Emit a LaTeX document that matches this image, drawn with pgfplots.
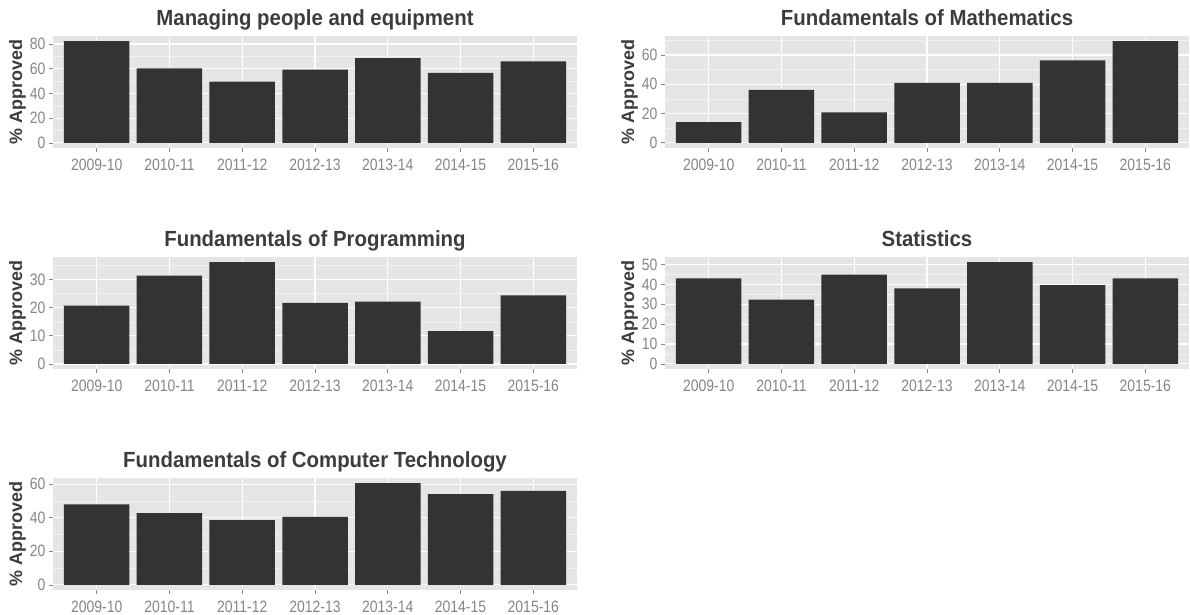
\documentclass[border=0pt]{standalone}
\usepackage{fontspec}
\setmainfont{Liberation Sans}
\newfontfamily\titlefont[FakeStretch=0.93]{Liberation Sans}
\newfontfamily\ylabfont[FakeStretch=1.0]{Liberation Sans}
\newfontfamily\tickfont[FakeStretch=0.85]{Liberation Sans}
\usepackage{pgfplots}
\pgfplotsset{compat=1.18}
\definecolor{ggbg}{HTML}{E5E5E5}
\definecolor{ggminor}{HTML}{F2F2F2}
\definecolor{ggbar}{HTML}{333333}
\definecolor{ggtick}{HTML}{858585}
\definecolor{ggtitle}{HTML}{3C3C3C}
\pgfplotsset{
  ggpanel/.style={
    scale only axis, width=524bp, height=112bp,
    anchor=south west,
    xmin=-0.6, xmax=6.6,
    xtick={0,1,2,3,4,5,6},
    xticklabels={2009-10,2010-11,2011-12,2012-13,2013-14,2014-15,2015-16},
    axis line style={draw=none},
    axis background/.style={fill=ggbg},
    xmajorgrids=true, ymajorgrids=true, yminorgrids=true,
    major grid style={draw=white, line width=1.1bp},
    minor grid style={draw=ggminor, line width=0.6bp},
    tick align=outside,
    major tick length=4bp, minor tick length=0bp,
    tick pos=left,
    tick style={draw=ggtick, line width=0.8bp},
    /pgf/number format/assume math mode=true,
    ticklabel style={font=\tickfont\fontsize{16.5}{16.5}\selectfont, text=ggtick},
    xticklabel style={yshift=-3bp},
    title style={font=\titlefont\bfseries\fontsize{22}{22}\selectfont, text=ggtitle, at={(0.5,1)}, anchor=base, yshift=5bp},
    ylabel={\% Approved},
    ylabel style={font=\ylabfont\bfseries\fontsize{18}{18}\selectfont, text=ggtitle, at={(axis description cs:-0.068,0.5)}, anchor=center},
  },
  ggbar/.style={ybar, bar width=0.9, fill=ggbar, draw=none},
}
\begin{document}
\begin{tikzpicture}
\useasboundingbox (0bp,0bp) rectangle (1190bp,-615bp);
% Panel 1
\begin{axis}[ggpanel, at={(53bp,-148bp)},
  title={Managing people and equipment},
  ymin=-4.1, ymax=86.5, ytick={0,20,40,60,80}, minor ytick={10,30,50,70}]
\addplot[ggbar] coordinates {(0,82.4) (1,60.4) (2,49.5) (3,59.3) (4,68.6) (5,56.7) (6,66.0)};
\end{axis}
% Panel 2
\begin{axis}[ggpanel, at={(665bp,-148bp)},
  title={Fundamentals of Mathematics},
  ymin=-3.5, ymax=73.0, ytick={0,20,40,60}, minor ytick={10,30,50,70}]
\addplot[ggbar] coordinates {(0,14.1) (1,36.2) (2,20.8) (3,40.9) (4,40.9) (5,56.3) (6,69.5)};
\end{axis}
% Panel 3
\begin{axis}[ggpanel, at={(53bp,-369bp)},
  title={Fundamentals of Programming},
  ymin=-1.8, ymax=38.1, ytick={0,10,20,30}, minor ytick={5,15,25,35}]
\addplot[ggbar] coordinates {(0,20.8) (1,31.5) (2,36.3) (3,21.8) (4,22.2) (5,11.7) (6,24.4)};
\end{axis}
% Panel 4
\begin{axis}[ggpanel, at={(665bp,-369bp)},
  title={Statistics},
  ymin=-2.56, ymax=53.8, ytick={0,10,20,30,40,50}, minor ytick={5,15,25,35,45}]
\addplot[ggbar] coordinates {(0,43.1) (1,32.3) (2,44.9) (3,38.0) (4,51.2) (5,39.6) (6,43.1)};
\end{axis}
% Panel 5
\begin{axis}[ggpanel, at={(53bp,-590bp)},
  title={Fundamentals of Computer Technology},
  ymin=-3.03, ymax=63.6, ytick={0,20,40,60}, minor ytick={10,30,50}]
\addplot[ggbar] coordinates {(0,47.9) (1,42.7) (2,38.6) (3,40.5) (4,60.6) (5,54.0) (6,56.0)};
\end{axis}
\end{tikzpicture}
\end{document}
